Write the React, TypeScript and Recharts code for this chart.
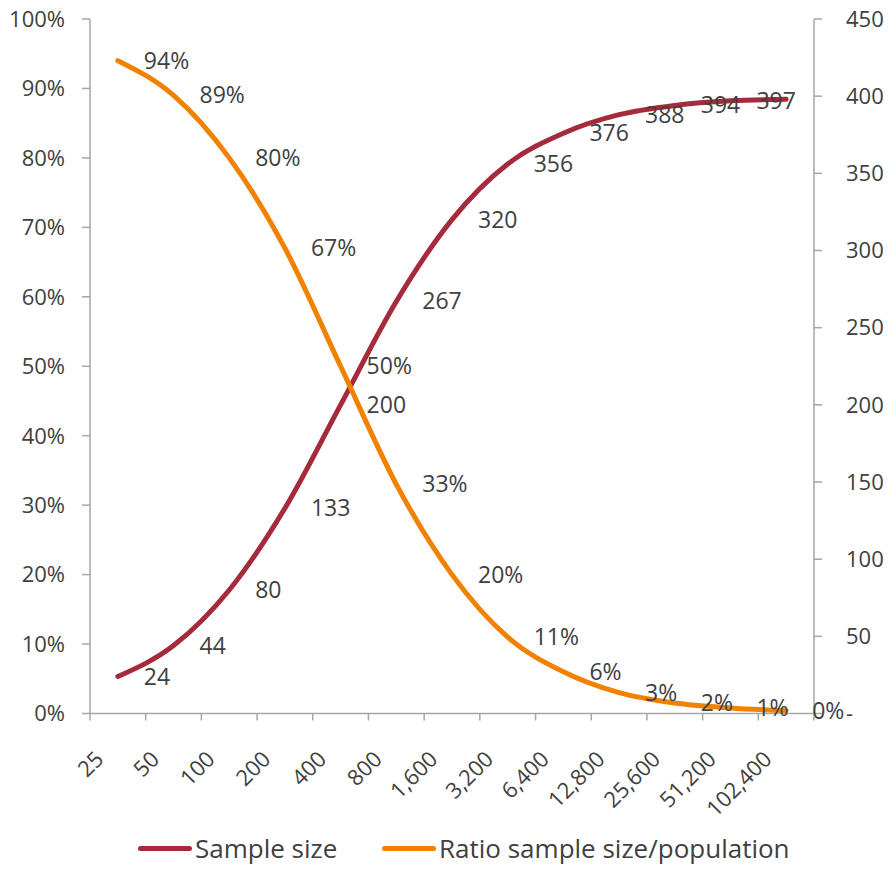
import React from 'react';
import { LineChart, Line, XAxis, YAxis, Legend, LabelList } from 'recharts';

// population sizes on the x axis
const categories = ['25', '50', '100', '200', '400', '800', '1,600', '3,200', '6,400', '12,800', '25,600', '51,200', '102,400'];
// required sample size (right axis)
const sampleSize = [24, 44, 80, 133, 200, 267, 320, 356, 376, 388, 394, 397, 398];
// sample size / population (left axis)
const ratio = [0.94, 0.89, 0.8, 0.67, 0.5, 0.33, 0.2, 0.11, 0.06, 0.03, 0.015, 0.008, 0.004];

const leftTicks = [0, 0.1, 0.2, 0.3, 0.4, 0.5, 0.6, 0.7, 0.8, 0.9, 1];
const rightTicks = [0, 50, 100, 150, 200, 250, 300, 350, 400, 450];
const legendOrder = ['Sample size', 'Ratio sample size/population'];

const data = categories.map((c, i) => ({ population: c, sample: sampleSize[i], ratio: ratio[i] }));

const W = 895;
const H = 879;
const LEFT_W = 90;
const RIGHT_W = 81;
const BAND = (W - LEFT_W - RIGHT_W) / categories.length;

const FONT = '"Open Sans", sans-serif';
const TEXT = '#404040';
const AXIS = '#a6a6a6';
const RED = '#a52a3b';
const ORANGE = '#f08200';

const XTick = (props: any) => {
  const { x, y, payload, index } = props;
  const half = BAND / 2;
  const tx = x - 13;
  const ty = y + 47;
  return (
    <g>
      <line x1={x - half} y1={y} x2={x - half} y2={y + 7} stroke={AXIS} strokeWidth={1.5} />
      {index === categories.length - 1 && (
        <line x1={x + half} y1={y} x2={x + half} y2={y + 7} stroke={AXIS} strokeWidth={1.5} />
      )}
      <text
        x={tx}
        y={ty}
        transform={`rotate(-45, ${tx}, ${ty})`}
        textAnchor="end"
        fill={TEXT}
        fontSize={22}
        fontFamily={FONT}
      >
        {payload.value}
      </text>
    </g>
  );
};

const makeLabel = (fmt: (v: number) => string, skipLast: boolean) => (props: any) => {
  const { x, y, value, index } = props;
  if (skipLast && index === categories.length - 1) return null;
  return (
    <text x={x + 26} y={y} dy="0.35em" textAnchor="start" fill={TEXT} fontSize={23} fontFamily={FONT}>
      {fmt(value)}
    </text>
  );
};

const LegendContent = (props: any) => {
  const items = [...(props.payload || [])].sort(
    (a: any, b: any) => legendOrder.indexOf(a.value) - legendOrder.indexOf(b.value)
  );
  const lefts = [138, 382];
  return (
    <div style={{ position: 'relative', height: 32, width: W }}>
      {items.map((p: any, i: number) => (
        <div
          key={p.value}
          style={{ position: 'absolute', left: lefts[i], top: 0, height: 32, display: 'flex', alignItems: 'center' }}
        >
          <span style={{ display: 'inline-block', width: 54, height: 5, borderRadius: 3, background: p.color }} />
          <span style={{ marginLeft: 3, fontSize: 26, color: TEXT, fontFamily: FONT, whiteSpace: 'nowrap' }}>
            {p.value}
          </span>
        </div>
      ))}
    </div>
  );
};

const App: React.FC = () => {
  return (
    <div style={{ position: 'absolute', left: 0, top: 0, width: W, height: H, background: '#fff', fontFamily: FONT }}>
      <LineChart width={W} height={H} data={data} margin={{ top: 19, right: 0, left: 0, bottom: 15 }}>
        <XAxis
          dataKey="population"
          interval={0}
          height={118.5}
          padding={{ left: BAND / 2, right: BAND / 2 }}
          tickSize={0}
          tickMargin={0}
          tickLine={false}
          axisLine={{ stroke: AXIS, strokeWidth: 1.5 }}
          tick={<XTick />}
        />
        <YAxis
          yAxisId="left"
          domain={[0, 1]}
          ticks={leftTicks}
          width={LEFT_W}
          tickSize={8}
          tickMargin={17}
          axisLine={{ stroke: AXIS, strokeWidth: 1.5 }}
          tickLine={{ stroke: AXIS, strokeWidth: 1.5 }}
          tick={{ fill: TEXT, fontSize: 22, fontFamily: FONT }}
          tickFormatter={(v: number) => `${Math.round(v * 100)}%`}
        />
        <YAxis
          yAxisId="right"
          orientation="right"
          domain={[0, 450]}
          ticks={rightTicks}
          width={RIGHT_W}
          tickSize={8}
          tickMargin={24}
          axisLine={{ stroke: AXIS, strokeWidth: 1.5 }}
          tickLine={{ stroke: AXIS, strokeWidth: 1.5 }}
          tick={{ fill: TEXT, fontSize: 22, fontFamily: FONT, textAnchor: 'start' }}
          tickFormatter={(v: number) => (v === 0 ? '-' : `${v}`)}
        />
        <Legend verticalAlign="bottom" content={<LegendContent />} />
        <Line
          yAxisId="right"
          type="monotone"
          dataKey="sample"
          name="Sample size"
          stroke={RED}
          strokeWidth={5}
          strokeLinecap="round"
          dot={false}
          activeDot={false}
          isAnimationActive={false}
        >
          <LabelList dataKey="sample" content={makeLabel((v) => `${v}`, true)} />
        </Line>
        <Line
          yAxisId="left"
          type="monotone"
          dataKey="ratio"
          name="Ratio sample size/population"
          stroke={ORANGE}
          strokeWidth={5}
          strokeLinecap="round"
          dot={false}
          activeDot={false}
          isAnimationActive={false}
        >
          <LabelList dataKey="ratio" content={makeLabel((v) => `${Math.round(v * 100)}%`, false)} />
        </Line>
      </LineChart>
    </div>
  );
};

export default App;
